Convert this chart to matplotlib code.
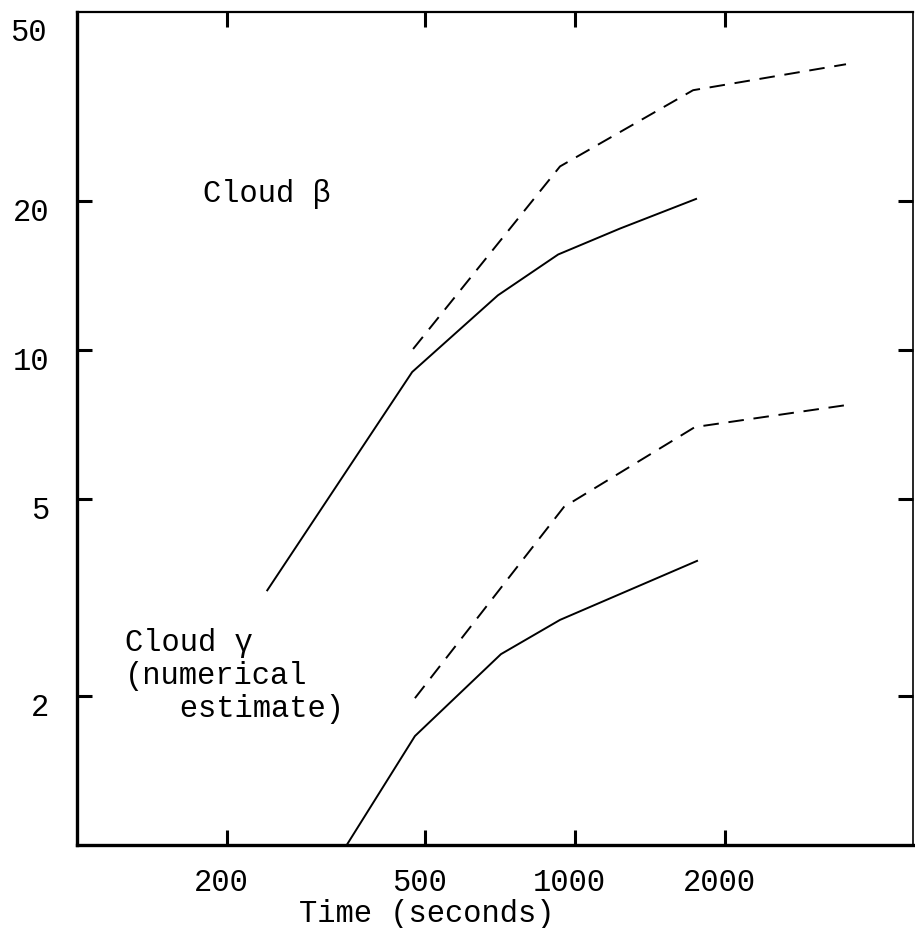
import matplotlib
matplotlib.use("Agg")
import matplotlib.pyplot as plt
import matplotlib.transforms as mtransforms

# ---- data ----
beta_solid_t = [241, 471, 700, 925, 1231, 1750]
beta_solid_v = [3.27, 9.03, 12.9, 15.6, 17.6, 20.2]

beta_dash_t = [473, 933, 1726, 3500]
beta_dash_v = [10.05, 23.5, 33.5, 37.8]

gamma_solid_t = [348, 477, 710, 933, 1758]
gamma_solid_v = [1.0, 1.66, 2.43, 2.85, 3.75]

gamma_dash_t = [477, 950, 1741, 3500]
gamma_dash_v = [1.98, 4.82, 6.99, 7.74]

xticks = [200, 500, 1000, 2000]
xtick_labels = ["200", "500", "1000", "2000"]
yticks = [2, 5, 10, 20]
ytick_labels = ["2", "5", "10", "20"]
top_label = "50"

FONT = "Liberation Mono"
FS = 22

fig = plt.figure(figsize=(9.15, 9.29), dpi=100)
ax = fig.add_axes([77/915, 1 - 846/929, (913-77)/915, (846-13)/929])

lw = 1.4
ax.plot(beta_solid_t, beta_solid_v, color="black", lw=lw)
ax.plot(beta_dash_t, beta_dash_v, color="black", lw=lw, linestyle=(0, (8, 5)))
ax.plot(gamma_solid_t, gamma_solid_v, color="black", lw=lw)
ax.plot(gamma_dash_t, gamma_dash_v, color="black", lw=lw, linestyle=(0, (8, 5)))

ax.set_xscale("log")
ax.set_yscale("log")
ax.set_xlim(100, 4771)
ax.set_ylim(1, 48.2)

ax.xaxis.set_minor_locator(matplotlib.ticker.NullLocator())
ax.yaxis.set_minor_locator(matplotlib.ticker.NullLocator())
ax.set_xticks(xticks)
ax.set_xticklabels(xtick_labels)
ax.set_yticks(yticks)
ax.set_yticklabels(ytick_labels)

ax.tick_params(axis="both", which="major", direction="in", length=10.5, width=2.2,
               top=True, right=True, labelsize=FS, color="black")
ax.tick_params(axis="x", pad=16)
ax.tick_params(axis="y", pad=20)

xoff = mtransforms.ScaledTranslation(-6/100, 0, fig.dpi_scale_trans)
yoff = mtransforms.ScaledTranslation(0, -7/100, fig.dpi_scale_trans)
for lab in ax.get_xticklabels():
    lab.set_fontfamily(FONT)
    lab.set_transform(lab.get_transform() + xoff)
for lab in ax.get_yticklabels():
    lab.set_fontfamily(FONT)
    lab.set_transform(lab.get_transform() + yoff)

ax.spines["left"].set_linewidth(2.4)
ax.spines["bottom"].set_linewidth(2.4)
ax.spines["top"].set_linewidth(1.6)
ax.spines["right"].set_linewidth(1.2)

# top "50" label (typed slightly below the top edge in the original)
trans = mtransforms.blended_transform_factory(ax.transAxes, ax.transData)
ax.text(-30/836, 44, top_label, transform=trans, ha="right", va="center",
        fontsize=FS, fontfamily=FONT, clip_on=False)

ax.set_xlabel("Time (seconds)", fontsize=FS, fontfamily=FONT)
ax.xaxis.set_label_coords((427-77)/836, -53/833)
ax.xaxis.label.set_va("top")

ax.text((203-77)/836, (846-202)/833, "Cloud \u03b2", transform=ax.transAxes,
        fontsize=FS, fontfamily=FONT, va="baseline", ha="left")
ax.text((125-77)/836, (846-628)/833, "Cloud \u03b3\n(numerical\n   estimate)",
        transform=ax.transAxes, fontsize=FS, fontfamily=FONT, va="top",
        ha="left", linespacing=1.12, multialignment="left")

fig.savefig("out.png", dpi=100)
